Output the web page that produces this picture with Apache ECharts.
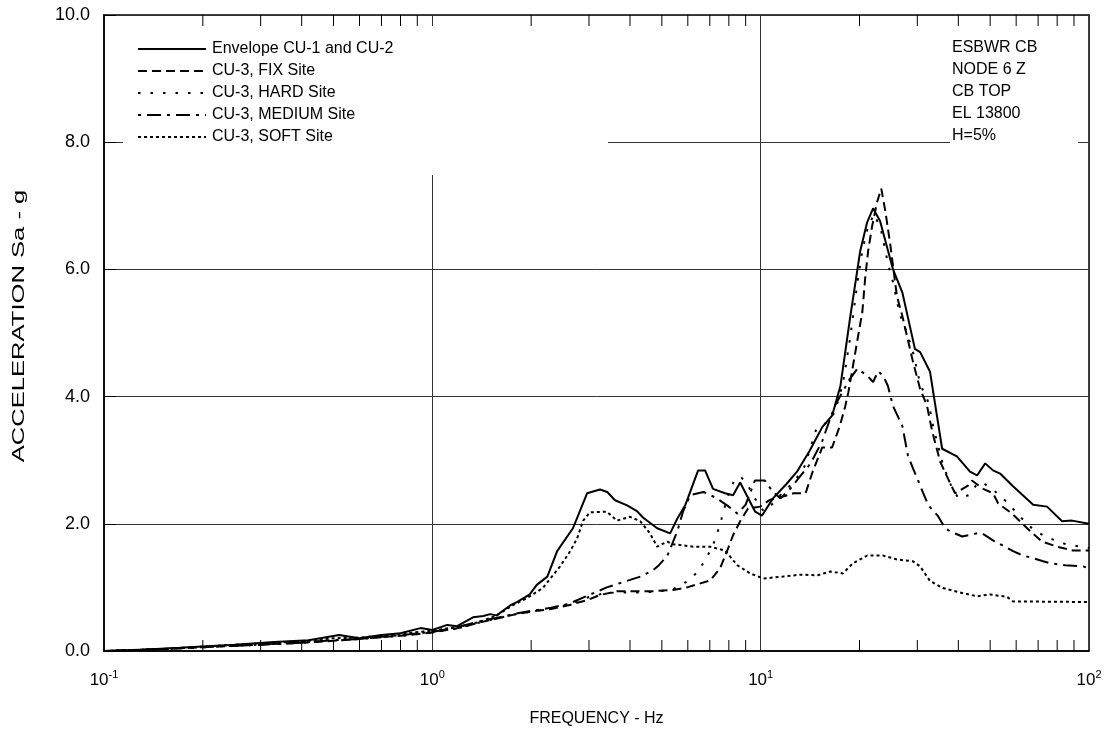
<!DOCTYPE html>
<html>
<head>
<meta charset="utf-8">
<title>ESBWR CB NODE 6 Z</title>
<script src="https://cdn.jsdelivr.net/npm/echarts@6/dist/echarts.min.js"></script>
<style>
  html, body { margin: 0; padding: 0; background: #fff; }
  #chart { width: 1114px; height: 732px; }
</style>
</head>
<body>
<div id="chart"></div>
<script>
// frequency (Hz), acceleration (g)
var envelope = [[0.1,0.0],[0.13,0.02],[0.17,0.05],[0.25,0.1],[0.33,0.14],[0.42,0.17],[0.52,0.25],[0.6,0.2],[0.7,0.25],[0.8,0.28],[0.92,0.36],[1.0,0.33],[1.11,0.41],[1.19,0.39],[1.33,0.53],[1.43,0.55],[1.5,0.58],[1.57,0.56],[1.73,0.72],[1.81,0.77],[1.98,0.89],[2.08,1.04],[2.24,1.17],[2.4,1.57],[2.68,1.93],[2.96,2.48],[3.24,2.54],[3.41,2.5],[3.6,2.37],[3.92,2.29],[4.2,2.2],[4.38,2.1],[4.84,1.93],[5.3,1.85],[5.57,2.08],[5.89,2.29],[6.45,2.84],[6.77,2.84],[7.16,2.55],[7.79,2.48],[8.24,2.45],[8.66,2.65],[9.62,2.19],[10.1,2.13],[10.9,2.4],[12.0,2.63],[12.9,2.82],[14.1,3.15],[15.4,3.52],[16.5,3.7],[17.5,4.17],[18.7,5.22],[20.1,6.29],[21.1,6.74],[22.0,6.96],[23.1,6.76],[25.3,6.0],[27.0,5.64],[29.5,4.75],[30.6,4.7],[32.8,4.39],[35.7,3.18],[39.6,3.06],[43.4,2.82],[45.6,2.76],[48.3,2.95],[51,2.84],[53.6,2.79],[58.7,2.59],[67.6,2.3],[74.5,2.27],[82.8,2.04],[88.8,2.05],[100,2.0]];

var fixSite = [[0.1,0],[0.15,0.03],[0.2,0.06],[0.3,0.1],[0.4,0.13],[0.5,0.16],[0.6,0.19],[0.8,0.24],[1.0,0.29],[1.2,0.36],[1.4,0.45],[1.6,0.52],[1.8,0.58],[2.0,0.62],[2.3,0.66],[2.6,0.72],[2.96,0.8],[3.24,0.88],[3.65,0.94],[4.0,0.94],[4.7,0.94],[5.41,0.96],[5.97,1.0],[7.02,1.11],[7.52,1.3],[7.9,1.57],[8.24,1.82],[8.66,2.04],[9.15,2.24],[9.96,2.27],[10.7,2.38],[11.2,2.4],[12.6,2.48],[13.7,2.48],[14.4,2.82],[15.4,3.2],[16.5,3.2],[17.45,3.55],[18.1,3.85],[18.5,4.07],[19.1,4.48],[19.8,4.95],[20.4,5.33],[20.8,5.85],[21.25,6.29],[21.85,6.68],[22.6,7.05],[23.3,7.27],[24.0,6.9],[24.8,6.4],[26.0,5.58],[27.0,5.27],[27.9,4.95],[29.1,4.55],[30.2,4.23],[30.6,4.12],[32.1,3.86],[33.3,3.45],[35.2,2.98],[37.2,2.71],[39.1,2.48],[42.8,2.6],[44.0,2.68],[47.6,2.55],[51,2.48],[52.9,2.32],[58.3,2.16],[64.8,1.93],[71.9,1.72],[80,1.64],[89.4,1.58],[100,1.58]];

var hardSite = [[0.1,0],[0.15,0.03],[0.2,0.06],[0.3,0.1],[0.4,0.13],[0.5,0.16],[0.6,0.19],[0.8,0.24],[1.0,0.29],[1.2,0.36],[1.4,0.45],[1.6,0.52],[1.8,0.58],[2.0,0.62],[2.3,0.67],[2.6,0.73],[3.0,0.85],[3.3,0.9],[3.6,0.92],[4.2,0.92],[4.8,0.93],[5.4,0.97],[6.0,1.1],[6.45,1.25],[6.9,1.5],[7.3,1.77],[7.6,2.08],[7.9,2.4],[8.3,2.68],[8.7,2.74],[9.15,2.6],[9.6,2.4],[10.2,2.2],[10.8,2.3],[11.7,2.5],[12.6,2.65],[13.6,2.9],[14.8,3.5],[16.0,3.6],[16.8,3.75],[17.8,4.2],[18.7,4.9],[19.6,5.7],[20.4,6.3],[21.3,6.7],[22.2,6.87],[23.3,6.6],[24.4,6.1],[25.3,5.8],[26.5,5.3],[27.9,5.0],[29.1,4.7],[30.6,4.2],[32.5,3.9],[33.5,3.54],[35.7,2.98],[37.5,2.66],[40,2.4],[43,2.45],[46,2.65],[48.3,2.62],[52,2.5],[56,2.35],[62,2.1],[68,1.9],[75,1.78],[85,1.68],[100,1.62]];

var mediumSite = [[0.1,0],[0.15,0.03],[0.2,0.06],[0.3,0.1],[0.4,0.13],[0.5,0.17],[0.6,0.19],[0.8,0.25],[1.0,0.3],[1.2,0.38],[1.4,0.47],[1.6,0.53],[1.8,0.59],[2.0,0.63],[2.3,0.68],[2.6,0.74],[3.0,0.88],[3.4,1.0],[3.9,1.1],[4.3,1.17],[4.7,1.27],[4.9,1.35],[5.2,1.5],[5.57,1.88],[5.8,2.19],[6.1,2.45],[6.7,2.5],[7.3,2.41],[7.9,2.29],[8.5,2.16],[9.0,2.3],[9.6,2.68],[10.3,2.68],[10.9,2.5],[11.5,2.4],[12.3,2.55],[13.2,2.75],[14.2,2.95],[15.4,3.3],[16.8,3.85],[18.7,4.28],[19.7,4.44],[21.1,4.33],[22.0,4.23],[22.8,4.4],[23.6,4.33],[24.4,4.17],[25.3,3.85],[27,3.54],[28.1,3.07],[29.1,2.87],[30.0,2.71],[30.6,2.6],[32.4,2.29],[34.7,2.12],[36.5,1.93],[37.8,1.88],[41.1,1.8],[45.6,1.85],[47.3,1.85],[51,1.74],[55.5,1.64],[58.7,1.57],[63,1.5],[67.6,1.46],[72.5,1.41],[76,1.38],[84.6,1.35],[96,1.33],[100,1.3]];

var softSite = [[0.1,0],[0.15,0.03],[0.2,0.07],[0.3,0.12],[0.4,0.15],[0.5,0.2],[0.6,0.21],[0.8,0.27],[1.0,0.32],[1.2,0.38],[1.4,0.46],[1.57,0.56],[1.76,0.72],[1.94,0.83],[2.17,0.99],[2.33,1.19],[2.45,1.33],[2.63,1.57],[2.76,1.77],[2.88,2.05],[3.02,2.18],[3.4,2.19],[3.65,2.05],[4.0,2.11],[4.3,2.04],[4.6,1.85],[4.84,1.64],[5.19,1.72],[5.41,1.68],[6.23,1.64],[7.02,1.64],[7.79,1.58],[8.48,1.35],[9.29,1.22],[10.2,1.14],[11.7,1.17],[13.2,1.2],[14.9,1.19],[16.3,1.25],[17.8,1.22],[19.1,1.38],[21.1,1.5],[23.6,1.5],[26,1.44],[29.1,1.41],[30.6,1.33],[32.8,1.1],[35.9,0.99],[40.5,0.92],[45.6,0.86],[50,0.89],[56.3,0.85],[58.7,0.78],[100,0.77]];

var seriesNames = ['Envelope CU-1 and CU-2', 'CU-3, FIX Site', 'CU-3, HARD Site', 'CU-3, MEDIUM Site', 'CU-3, SOFT Site'];
var minorTicks = [0.2,0.3,0.4,0.5,0.6,0.7,0.8,0.9, 2,3,4,5,6,7,8,9, 20,30,40,50,60,70,80,90];
var noteLines = ['ESBWR CB', 'NODE 6 Z', 'CB TOP', 'EL 13800', 'H=5%'];
var yTitle = 'ACCELERATION Sa - g';

var FONT = 'Liberation Sans, Arial, sans-serif';

function curve(name, data, dash) {
    return {
        name: name,
        type: 'line',
        data: data,
        symbol: 'none',
        smooth: false,
        z: 5,
        lineStyle: { color: '#000', width: 2, type: dash },
        itemStyle: { color: '#000' }
    };
}

var chart = echarts.init(document.getElementById('chart'), null, { renderer: 'canvas' });
chart.setOption({
    animation: false,
    backgroundColor: '#fff',
    textStyle: { fontFamily: FONT, color: '#000' },
    grid: {
        left: 104, right: 25, top: 15, bottom: 79,
        show: true, borderColor: '#000', borderWidth: 1.5, backgroundColor: 'transparent'
    },
    legend: {
        data: seriesNames,
        orient: 'vertical',
        left: 137, top: 41,
        itemWidth: 68, itemHeight: 14, itemGap: 6,
        padding: 0,
        itemStyle: { color: 'rgba(0,0,0,0)', borderColor: 'rgba(0,0,0,0)', borderWidth: 0 },
        textStyle: { fontSize: 16, fontFamily: FONT, color: '#000', padding: [0, 0, 0, 1] },
        selectedMode: false
    },
    xAxis: {
        type: 'log',
        min: 0.1, max: 100, logBase: 10,
        name: 'FREQUENCY - Hz',
        nameLocation: 'middle',
        nameGap: 60,
        nameTextStyle: { fontSize: 16, fontFamily: FONT, color: '#000' },
        axisLine: { show: true, lineStyle: { color: '#000', width: 1.5 } },
        axisTick: { show: false },
        splitLine: { show: true, lineStyle: { color: '#333', width: 1 } },
        axisLabel: {
            margin: 18,
            formatter: function (v) {
                var e = Math.round(Math.log(v) / Math.LN10);
                return '{b|10}{s|' + e + '}';
            },
            rich: {
                b: { fontSize: 17, fontFamily: FONT, color: '#000', lineHeight: 22 },
                s: { fontSize: 11, fontFamily: FONT, color: '#000', verticalAlign: 'top', lineHeight: 22 }
            }
        }
    },
    yAxis: {
        type: 'value',
        min: 0, max: 10, interval: 2,
        axisLine: { show: true, lineStyle: { color: '#000', width: 1.5 } },
        axisTick: { show: true, inside: true, length: 12, lineStyle: { color: '#000' } },
        splitLine: { show: true, lineStyle: { color: '#333', width: 1 } },
        axisLabel: {
            margin: 14, fontSize: 18, fontFamily: FONT, color: '#000',
            formatter: function (v) { return v.toFixed(1); }
        }
    },
    graphic: [
        { type: 'rect', z: 1, shape: { x: 123, y: 26, width: 485, height: 149 }, style: { fill: '#fff' } },
        { type: 'rect', z: 1, shape: { x: 950, y: 26, width: 128, height: 134 }, style: { fill: '#fff' } },
        {
            type: 'text', z: 6, left: 952, top: 37,
            style: { text: noteLines.join('\n'), font: '16px ' + FONT, fill: '#000', lineHeight: 22 }
        },
        {
            // axis title, drawn stretched along its length like the original
            type: 'text', z: 6, x: 20, y: 326, rotation: Math.PI / 2, scaleX: 1.6,
            style: { text: yTitle, font: '16px ' + FONT, fill: '#000', align: 'center', verticalAlign: 'middle' }
        }
    ],
    series: [
        curve(seriesNames[0], envelope, 'solid'),
        curve(seriesNames[1], fixSite, [9, 5]),
        curve(seriesNames[2], hardSite, [2.5, 10]),
        curve(seriesNames[3], mediumSite, [3, 6, 14, 6]),
        curve(seriesNames[4], softSite, [3, 3]),
        {
            type: 'custom',
            silent: true,
            z: 3,
            data: minorTicks.map(function (f) { return [f, 0]; }),
            encode: { x: 0, y: 1 },
            renderItem: function (params, api) {
                var b = api.coord([api.value(0), 0]);
                var t = api.coord([api.value(0), 10]);
                return {
                    type: 'group',
                    children: [
                        { type: 'line', shape: { x1: b[0], y1: b[1], x2: b[0], y2: b[1] - 11 }, style: { stroke: '#000', lineWidth: 1 } },
                        { type: 'line', shape: { x1: t[0], y1: t[1], x2: t[0], y2: t[1] + 11 }, style: { stroke: '#000', lineWidth: 1 } }
                    ]
                };
            }
        }
    ]
});
</script>
</body>
</html>
